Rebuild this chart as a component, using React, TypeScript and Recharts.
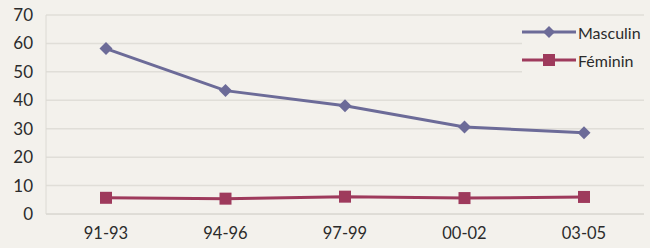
import { LineChart, Line, XAxis, YAxis, CartesianGrid } from "recharts"

const periods = ["91-93", "94-96", "97-99", "00-02", "03-05"]
const masculin = [58.2, 43.4, 38.1, 30.6, 28.6]
const feminin = [5.7, 5.4, 6.1, 5.6, 6.0]
const yTicks = [0, 10, 20, 30, 40, 50, 60, 70]

const MASC = "#6c6b98"
const FEM = "#9e3a5c"
const FONT = "Lato, 'Noto Sans', sans-serif"

const data = periods.map((p, i) => ({ period: p, Masculin: masculin[i], Féminin: feminin[i] }))

function Diamond({ cx, cy, color, r = 6.5 }: { cx?: number; cy?: number; color: string; r?: number }) {
  if (cx == null || cy == null) return null
  return <path d={`M${cx},${cy - r}L${cx + r},${cy}L${cx},${cy + r}L${cx - r},${cy}Z`} fill={color} />
}

function Square({ cx, cy, color, s = 6 }: { cx?: number; cy?: number; color: string; s?: number }) {
  if (cx == null || cy == null) return null
  return <rect x={cx - s} y={cy - s} width={s * 2} height={s * 2} fill={color} />
}

function LegendBox() {
  const rows = [
    { name: "Masculin", color: MASC, kind: "diamond" },
    { name: "Féminin", color: FEM, kind: "square" },
  ]
  return (
    <div
      style={{
        position: "absolute", left: 522, top: 18, width: 128,
        background: "#f3f1ec", fontFamily: FONT, fontSize: 16, color: "#2b2b2b",
      }}
    >
      {rows.map((r) => (
        <div key={r.name} style={{ display: "flex", alignItems: "center", height: 28 }}>
          <svg width={54} height={16} style={{ marginRight: 2 }}>
            <line x1={0} y1={8} x2={54} y2={8} stroke={r.color} strokeWidth={3} />
            {r.kind === "diamond"
              ? <Diamond cx={27} cy={8} color={r.color} r={6} />
              : <Square cx={27} cy={8} color={r.color} s={6} />}
          </svg>
          <span>{r.name}</span>
        </div>
      ))}
    </div>
  )
}

export default function App() {
  return (
    <div style={{ position: "absolute", left: 0, top: 0, width: 650, height: 248, background: "#f3f1ec" }}>
      <LineChart width={650} height={248} data={data} margin={{ top: 15, right: 6, left: 0, bottom: 4 }}>
        <CartesianGrid horizontal vertical={false} stroke="#e0ded8" strokeWidth={1.5} />
        <XAxis
          dataKey="period"
          height={30}
          padding={{ left: 60, right: 60 }}
          tick={{ fontSize: 16.5, fill: "#2b2b2b", fontFamily: FONT }}
          axisLine={{ stroke: "#d8d6d0" }}
          tickLine={false}
          tickMargin={7}
        />
        <YAxis
          domain={[0, 70]}
          ticks={yTicks}
          width={46}
          interval={0}
          tick={{ fontSize: 17, fill: "#2b2b2b", fontFamily: FONT }}
          axisLine={{ stroke: "#dcdad4" }}
          tickLine={false}
          tickMargin={7}
        />
        <Line
          dataKey="Masculin"
          stroke={MASC}
          strokeWidth={3}
          isAnimationActive={false}
          dot={(p: any) => <Diamond key={p.index} cx={p.cx} cy={p.cy} color={MASC} />}
        />
        <Line
          dataKey="Féminin"
          stroke={FEM}
          strokeWidth={3}
          isAnimationActive={false}
          dot={(p: any) => <Square key={p.index} cx={p.cx} cy={p.cy} color={FEM} />}
        />
      </LineChart>
      <LegendBox />
    </div>
  )
}
